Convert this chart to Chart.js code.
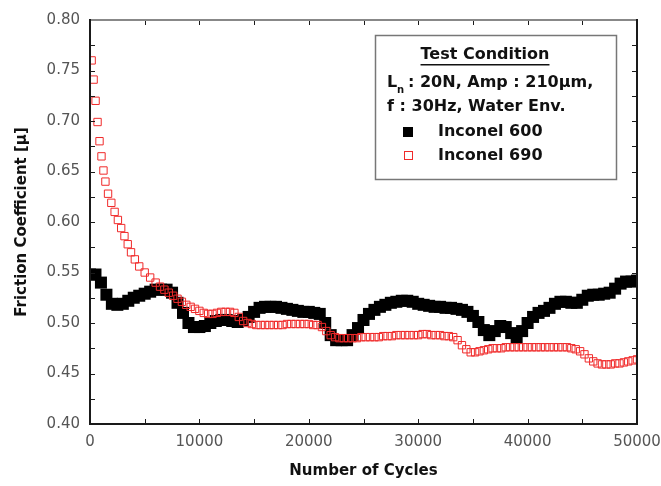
<!DOCTYPE html>
<html>
<head>
<script src="https://cdn.jsdelivr.net/npm/chart.js@4.4.1/dist/chart.umd.min.js"></script>
<style>
body { margin: 0; background: #fff; }
#wrap { position: relative; width: 661px; height: 486px; }
#wrap .mark { position: absolute; pointer-events: none; z-index: 2; }
</style>
</head>
<body>
<div id="wrap">
<canvas id="myChart" width="661" height="486"></canvas>
</div>
<script>
// Inconel 600 (filled black squares)
var cycles600 = [0,500,1000,1500,2000,2500,3000,3500,4000,4500,5000,5500,6000,6500,7000,7500,8000,8500,9000,9500,
    10000,10500,11000,11500,12000,12500,13000,13500,14000,14500,15000,15500,16000,16500,17000,17500,18000,18500,19000,19500,
    20000,20500,21000,21500,22000,22500,23000,23500,24000,24500,25000,25500,26000,26500,27000,27500,28000,28500,29000,29500,
    30000,30500,31000,31500,32000,32500,33000,33500,34000,34500,35000,35500,36000,36500,37000,37500,38000,38500,39000,39500,
    40000,40500,41000,41500,42000,42500,43000,43500,44000,44500,45000,45500,46000,46500,47000,47500,48000,48500,49000,49500,50000];
var mu600 = [0.548,0.548,0.540,0.528,0.519,0.518,0.519,0.522,0.525,0.527,0.529,0.531,0.533,0.533,0.533,0.530,0.520,0.510,0.500,0.496,
    0.496,0.497,0.500,0.502,0.503,0.503,0.502,0.501,0.503,0.506,0.511,0.515,0.516,0.516,0.516,0.515,0.514,0.513,0.512,0.511,
    0.511,0.510,0.509,0.500,0.488,0.483,0.483,0.483,0.488,0.495,0.503,0.509,0.513,0.516,0.518,0.520,0.521,0.522,0.522,0.521,
    0.519,0.518,0.517,0.516,0.516,0.515,0.515,0.514,0.513,0.511,0.507,0.501,0.493,0.488,0.492,0.497,0.496,0.490,0.486,0.492,
    0.500,0.506,0.510,0.512,0.515,0.519,0.521,0.521,0.520,0.520,0.523,0.527,0.528,0.528,0.529,0.530,0.534,0.539,0.541,0.541,0.542];

// Inconel 690 (open red squares)
var cycles690 = [150,330,510,690,870,1050,1230,1410,1650,1950,2250,2550,2850,3150,3450,3750,4100,4500,5000,5500,6000,
    6400,6800,7200,7600,8000,8400,8800,9200,9600,10000,10400,10800,11200,11600,12000,12400,12800,13200,13600,14000,
    14400,14800,15200,15600,16000,16400,16800,17200,17600,18000,18400,18800,19200,19600,20000,20400,20800,21200,21600,22000,
    22400,22800,23200,23600,24000,24400,24800,25200,25600,26000,26400,26800,27200,27600,28000,28400,28800,29200,29600,30000,
    30400,30800,31200,31600,32000,32400,32800,33200,33600,34000,34400,34800,35200,35600,36000,36400,36800,37200,37600,38000,
    38400,38800,39200,39600,40000,40400,40800,41200,41600,42000,42400,42800,43200,43600,44000,44400,44800,45200,45600,46000,
    46400,46800,47200,47600,48000,48400,48800,49200,49600,50000];
var mu690 = [0.760,0.741,0.720,0.699,0.680,0.665,0.651,0.640,0.628,0.619,0.610,0.602,0.594,0.586,0.578,0.570,0.563,0.556,0.550,0.545,0.540,
    0.536,0.533,0.530,0.527,0.524,0.521,0.518,0.516,0.514,0.512,0.510,0.509,0.509,0.510,0.511,0.511,0.511,0.510,0.506,0.502,
    0.500,0.499,0.498,0.498,0.498,0.498,0.498,0.498,0.498,0.499,0.499,0.499,0.499,0.499,0.499,0.498,0.498,0.496,0.492,0.488,
    0.486,0.485,0.485,0.485,0.485,0.485,0.486,0.486,0.486,0.486,0.486,0.487,0.487,0.487,0.488,0.488,0.488,0.488,0.488,0.488,
    0.489,0.489,0.488,0.488,0.488,0.487,0.487,0.486,0.483,0.478,0.474,0.471,0.471,0.472,0.473,0.474,0.475,0.475,0.475,0.476,
    0.476,0.476,0.476,0.476,0.476,0.476,0.476,0.476,0.476,0.476,0.476,0.476,0.476,0.476,0.475,0.474,0.472,0.469,0.465,0.462,
    0.460,0.459,0.459,0.459,0.460,0.460,0.461,0.462,0.463,0.464];

var yTicks = [0.40,0.45,0.50,0.55,0.60,0.65,0.70,0.75,0.80];
var xTicks = [0,10000,20000,30000,40000,50000];

function toPoints(xs, ys) {
    var pts = [];
    for (var i = 0; i < xs.length; i++) pts.push({x: xs[i], y: ys[i]});
    return pts;
}

function drawLegend(chart) {
    var g = chart.ctx;
    var ds = chart.data.datasets;
    g.save();
    g.strokeStyle = '#777';
    g.lineWidth = 1.5;
    g.fillStyle = '#fff';
    g.fillRect(375, 35, 241, 144);
    g.strokeRect(375.5, 35.5, 241, 144);

    g.fillStyle = '#111';
    g.font = 'bold 16px "DejaVu Sans"';
    g.textBaseline = 'middle';
    g.textAlign = 'center';
    g.fillText('Test Condition', 485, 55);
    var w = g.measureText('Test Condition').width;
    g.fillRect(485 - w / 2, 64, w, 1.5);

    g.textAlign = 'left';
    g.fillText('L', 387, 83);
    g.font = 'bold 10px "DejaVu Sans"';
    g.fillText('n', 397, 90);
    g.font = 'bold 16px "DejaVu Sans"';
    g.fillText(': 20N, Amp : 210\u03bcm,', 408, 83);
    g.fillText('f : 30Hz, Water Env.', 387, 107);
    g.fillText(ds[0].label, 438, 132);
    g.fillText(ds[1].label, 438, 156);

    g.fillStyle = ds[0].backgroundColor;
    g.fillRect(403, 127, 10, 10);
    g.strokeStyle = ds[1].borderColor;
    g.lineWidth = 1;
    g.strokeRect(404.5, 151.5, 8, 8);
    g.restore();
}

var overlay = {
    id: 'overlay',
    afterDraw: function(chart) { drawLegend(chart); }
};

var ctx = document.getElementById('myChart');
var myChart = new Chart(ctx, {
    type: 'scatter',
    data: {
        datasets: [
            { label: 'Inconel 600', data: toPoints(cycles600, mu600), showLine: false, borderColor: '#000', backgroundColor: '#000',
              pointStyle: 'rect', pointRadius: 8.5, pointBorderWidth: 0, order: 2 },
            { label: 'Inconel 690', data: toPoints(cycles690, mu690), showLine: false, borderColor: '#f02a2a',
              backgroundColor: 'rgba(255,255,255,0)', pointStyle: 'rect', pointRadius: 5.2, pointBorderWidth: 1, order: 1 }
        ]
    },
    options: {
        responsive: false, animation: false, devicePixelRatio: 1,
        layout: { padding: { left: 0, top: 20, right: 24, bottom: 0 } },
        plugins: { legend: { display: false }, tooltip: { enabled: false } },
        scales: {
            x: { type: 'linear', min: 0, max: 50000,
                afterFit: function(s) { s.height = 62; s.paddingLeft = 0; s.paddingRight = 0; },
                afterBuildTicks: function(s) { s.ticks = xTicks.map(function(v) { return {value: v}; }); },
                grid: { display: false, drawTicks: false },
                border: { display: true, color: '#1a1a1a', width: 2 },
                ticks: { padding: 9, color: '#555', font: { family: 'DejaVu Sans', size: 15 }, maxRotation: 0,
                    callback: function(v) { return String(v); } },
                title: { display: true, text: 'Number of Cycles', color: '#111',
                    font: { family: 'DejaVu Sans', size: 15, weight: 'bold' }, padding: { top: 0, bottom: 6 } } },
            y: { type: 'linear', min: 0.40, max: 0.80,
                afterFit: function(s) { s.width = 90; s.paddingTop = 0; s.paddingBottom = 0; },
                afterBuildTicks: function(s) { s.ticks = yTicks.map(function(v) { return {value: v}; }); },
                grid: { display: false, drawTicks: false },
                border: { display: true, color: '#1a1a1a', width: 2 },
                ticks: { padding: 10, color: '#555', font: { family: 'DejaVu Sans', size: 15 },
                    callback: function(v) { return v.toFixed(2); } },
                title: { display: true, text: 'Friction Coefficient [\u03bc]', color: '#111',
                    font: { family: 'DejaVu Sans', size: 15, weight: 'bold' }, padding: { top: 13, bottom: 0 } } }
        }
    },
    plugins: [overlay]
});

// frame and inward ticks on all four sides, placed from the chart's own scales
(function() {
    var wrap = document.getElementById('wrap');
    var xs = myChart.scales.x, ys = myChart.scales.y, ca = myChart.chartArea;
    var l = xs.getPixelForValue(0), r = xs.getPixelForValue(50000);
    var t = ys.getPixelForValue(0.80), b = ys.getPixelForValue(0.40);
    if (!isFinite(l) || !isFinite(r) || !isFinite(t) || !isFinite(b)) {
        l = ca.left; r = ca.right; t = ca.top; b = ca.bottom;
    }
    l = Math.round(l); r = Math.round(r); t = Math.round(t); b = Math.round(b);
    function mark(x, y, w, h, color) {
        var d = document.createElement('div');
        d.className = 'mark';
        d.style.left = x + 'px';
        d.style.top = y + 'px';
        d.style.width = w + 'px';
        d.style.height = h + 'px';
        d.style.background = color;
        wrap.appendChild(d);
    }
    for (var i = 1; i < 16; i++) {
        var py = Math.round(ys.getPixelForValue(0.40 + i * 0.025));
        mark(l, py, 5, 1, '#1a1a1a');
        mark(r - 5, py, 5, 1, '#1a1a1a');
    }
    for (var j = 1; j < 10; j++) {
        var px = Math.round(xs.getPixelForValue(j * 5000));
        mark(px, b - 5, 1, 5, '#1a1a1a');
        mark(px, t, 1, 5, '#1a1a1a');
    }
    mark(l - 1, t - 1, r - l + 2, 2, '#888');
    mark(l - 1, t - 1, 2, b - t + 2, '#1a1a1a');
    mark(r - 1, t - 1, 2, b - t + 2, '#1a1a1a');
    mark(l - 1, b - 1, r - l + 2, 2, '#1a1a1a');
})();
</script>
</body>
</html>
